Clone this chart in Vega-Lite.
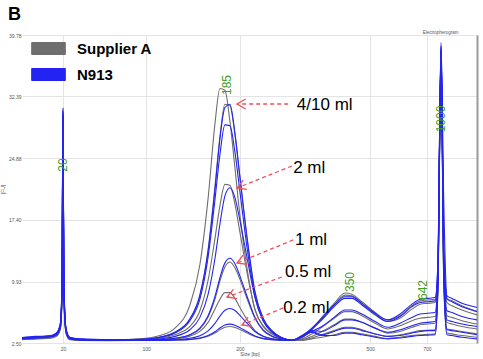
{
"$schema":"https://vega.github.io/schema/vega-lite/v6.json",
"width":455,"height":308,
"autosize":{"type":"none"},
"padding":{"left":22,"top":35,"right":6,"bottom":16},
"title":{"text":"B","anchor":"start","frame":"group","fontSize":18,"fontWeight":"bold","color":"#000","baseline":"alphabetic","offset":14,"dx":-14,"dy":22,"font":"Liberation Sans"},
"config":{"font":"Liberation Sans","view":{"stroke":null}},
"datasets":{
"A10":[{"t":0,"fu":3.1},{"t":2.9,"fu":3.2},{"t":5.7,"fu":3.3},{"t":7.5,"fu":3.6},{"t":8.4,"fu":4.6},{"t":8.8,"fu":9},{"t":9.0,"fu":30.2},{"t":9.2,"fu":9},{"t":9.7,"fu":4.0},{"t":10.5,"fu":3.1},{"t":12.7,"fu":2.95},{"t":19.3,"fu":2.85},{"t":25.9,"fu":3.0},{"t":30.3,"fu":3.4},{"t":33.6,"fu":4.3},{"t":36.9,"fu":7.1},{"t":39.1,"fu":12.0},{"t":40.9,"fu":20.0},{"t":42.4,"fu":29.0},{"t":43.5,"fu":33.3},{"t":44.6,"fu":33.1},{"t":45.7,"fu":29.3},{"t":46.8,"fu":23.7},{"t":47.9,"fu":17.9},{"t":49.5,"fu":11.4},{"t":51.2,"fu":6.5},{"t":53.0,"fu":4.6},{"t":54.9,"fu":3.6},{"t":57.1,"fu":3.0},{"t":59.3,"fu":2.85},{"t":61.5,"fu":3.2},{"t":63.7,"fu":4.2},{"t":65.9,"fu":5.6},{"t":68.6,"fu":7.3},{"t":71.0,"fu":8.55},{"t":72.5,"fu":8.4},{"t":74.7,"fu":7.5},{"t":77.6,"fu":6.2},{"t":80.4,"fu":5.3},{"t":83.1,"fu":5.8},{"t":85.7,"fu":7.0},{"t":87.5,"fu":7.6},{"t":89.2,"fu":7.7},{"t":90.8,"fu":7.8},{"t":91.4,"fu":11},{"t":92.1,"fu":37.8},{"t":92.7,"fu":13},{"t":93.4,"fu":7.9},{"t":94.5,"fu":7.6},{"t":96.7,"fu":7.0},{"t":100,"fu":6.3}],
"A4":[{"t":0,"fu":3.05},{"t":2.9,"fu":3.15},{"t":5.7,"fu":3.25},{"t":7.5,"fu":3.5},{"t":8.4,"fu":4.5},{"t":8.8,"fu":8.5},{"t":9.0,"fu":30.0},{"t":9.2,"fu":8.5},{"t":9.7,"fu":3.9},{"t":10.5,"fu":3.05},{"t":12.7,"fu":2.9},{"t":19.3,"fu":2.85},{"t":25.9,"fu":2.95},{"t":30.3,"fu":3.2},{"t":33.6,"fu":3.8},{"t":36.9,"fu":5.4},{"t":39.1,"fu":8.3},{"t":40.9,"fu":13.8},{"t":42.4,"fu":21.4},{"t":43.5,"fu":27.5},{"t":44.6,"fu":31.4},{"t":45.7,"fu":31.2},{"t":46.8,"fu":27.7},{"t":47.9,"fu":22.5},{"t":49.5,"fu":15.0},{"t":51.2,"fu":8.6},{"t":53.0,"fu":5.4},{"t":54.9,"fu":4.0},{"t":57.1,"fu":3.15},{"t":59.3,"fu":2.85},{"t":61.5,"fu":3.15},{"t":63.7,"fu":4.1},{"t":65.9,"fu":5.4},{"t":68.6,"fu":7.1},{"t":71.0,"fu":8.3},{"t":72.5,"fu":8.2},{"t":74.7,"fu":7.3},{"t":77.6,"fu":6.0},{"t":80.4,"fu":5.1},{"t":83.1,"fu":5.5},{"t":85.7,"fu":6.6},{"t":87.5,"fu":7.2},{"t":89.2,"fu":7.3},{"t":90.8,"fu":7.4},{"t":91.4,"fu":11},{"t":92.1,"fu":37.5},{"t":92.7,"fu":12.5},{"t":93.4,"fu":7.4},{"t":94.5,"fu":7.0},{"t":96.7,"fu":6.5},{"t":100,"fu":5.9}],
"A2":[{"t":0,"fu":3.0},{"t":2.9,"fu":3.1},{"t":5.7,"fu":3.2},{"t":7.5,"fu":3.45},{"t":8.4,"fu":4.4},{"t":8.8,"fu":8.5},{"t":9.0,"fu":29.8},{"t":9.2,"fu":8.5},{"t":9.7,"fu":3.9},{"t":10.5,"fu":3.0},{"t":12.7,"fu":2.9},{"t":19.3,"fu":2.8},{"t":25.9,"fu":2.9},{"t":30.3,"fu":3.1},{"t":33.6,"fu":3.5},{"t":36.9,"fu":4.5},{"t":39.1,"fu":6.4},{"t":40.9,"fu":10.1},{"t":42.4,"fu":15.1},{"t":43.5,"fu":19.1},{"t":44.6,"fu":21.7},{"t":45.7,"fu":21.6},{"t":46.8,"fu":19.3},{"t":47.9,"fu":15.9},{"t":49.5,"fu":10.9},{"t":51.2,"fu":6.6},{"t":53.0,"fu":4.5},{"t":54.9,"fu":3.6},{"t":57.1,"fu":3.0},{"t":59.3,"fu":2.8},{"t":61.5,"fu":3.0},{"t":63.7,"fu":3.6},{"t":65.9,"fu":4.4},{"t":68.6,"fu":5.5},{"t":71.0,"fu":6.3},{"t":72.5,"fu":6.3},{"t":74.7,"fu":5.8},{"t":77.6,"fu":4.9},{"t":80.4,"fu":4.2},{"t":83.1,"fu":4.6},{"t":85.7,"fu":5.2},{"t":87.5,"fu":5.5},{"t":89.2,"fu":5.6},{"t":90.8,"fu":5.7},{"t":91.4,"fu":10},{"t":92.1,"fu":37.2},{"t":92.7,"fu":12},{"t":93.4,"fu":5.8},{"t":94.5,"fu":5.6},{"t":96.7,"fu":5.2},{"t":100,"fu":4.8}],
"A1":[{"t":0,"fu":3.0},{"t":2.9,"fu":3.05},{"t":5.7,"fu":3.15},{"t":7.5,"fu":3.4},{"t":8.4,"fu":4.3},{"t":8.8,"fu":8},{"t":9.0,"fu":29.6},{"t":9.2,"fu":8},{"t":9.7,"fu":3.8},{"t":10.5,"fu":3.0},{"t":12.7,"fu":2.85},{"t":19.3,"fu":2.8},{"t":25.9,"fu":2.84},{"t":30.3,"fu":2.9},{"t":33.6,"fu":3.07},{"t":36.9,"fu":3.5},{"t":39.1,"fu":4.2},{"t":40.9,"fu":5.65},{"t":42.4,"fu":7.8},{"t":43.5,"fu":10.0},{"t":44.6,"fu":11.7},{"t":45.7,"fu":12.3},{"t":46.8,"fu":11.6},{"t":47.9,"fu":10.2},{"t":49.5,"fu":7.8},{"t":51.2,"fu":5.5},{"t":53.0,"fu":4.0},{"t":54.9,"fu":3.3},{"t":57.1,"fu":2.97},{"t":59.3,"fu":2.82},{"t":61.5,"fu":2.9},{"t":63.7,"fu":3.3},{"t":65.9,"fu":3.9},{"t":68.6,"fu":4.7},{"t":71.0,"fu":5.4},{"t":72.5,"fu":5.4},{"t":74.7,"fu":5.0},{"t":77.6,"fu":4.3},{"t":80.4,"fu":3.7},{"t":83.1,"fu":3.9},{"t":85.7,"fu":4.4},{"t":87.5,"fu":4.7},{"t":89.2,"fu":4.8},{"t":90.8,"fu":4.9},{"t":91.4,"fu":9.5},{"t":92.1,"fu":37},{"t":92.7,"fu":11},{"t":93.4,"fu":5.0},{"t":94.5,"fu":4.8},{"t":96.7,"fu":4.5},{"t":100,"fu":4.2}],
"A05":[{"t":0,"fu":2.95},{"t":2.9,"fu":3.0},{"t":5.7,"fu":3.1},{"t":7.5,"fu":3.35},{"t":8.4,"fu":4.2},{"t":8.8,"fu":8},{"t":9.0,"fu":29.4},{"t":9.2,"fu":8},{"t":9.7,"fu":3.7},{"t":10.5,"fu":2.95},{"t":12.7,"fu":2.85},{"t":19.3,"fu":2.8},{"t":25.9,"fu":2.83},{"t":30.3,"fu":2.89},{"t":33.6,"fu":3.0},{"t":36.9,"fu":3.33},{"t":39.1,"fu":3.9},{"t":40.9,"fu":5.0},{"t":42.4,"fu":6.6},{"t":43.5,"fu":7.8},{"t":44.6,"fu":8.6},{"t":45.7,"fu":8.6},{"t":46.8,"fu":7.9},{"t":47.9,"fu":6.8},{"t":49.5,"fu":5.3},{"t":51.2,"fu":4.0},{"t":53.0,"fu":3.33},{"t":54.9,"fu":3.04},{"t":57.1,"fu":2.87},{"t":59.3,"fu":2.8},{"t":61.5,"fu":2.85},{"t":63.7,"fu":3.1},{"t":65.9,"fu":3.5},{"t":68.6,"fu":4.0},{"t":71.0,"fu":4.4},{"t":72.5,"fu":4.4},{"t":74.7,"fu":4.1},{"t":77.6,"fu":3.6},{"t":80.4,"fu":3.3},{"t":83.1,"fu":3.5},{"t":85.7,"fu":3.8},{"t":87.5,"fu":4.0},{"t":89.2,"fu":4.05},{"t":90.8,"fu":4.1},{"t":91.4,"fu":9},{"t":92.1,"fu":36.8},{"t":92.7,"fu":10},{"t":93.4,"fu":4.2},{"t":94.5,"fu":4.1},{"t":96.7,"fu":3.9},{"t":100,"fu":3.6}],
"A02":[{"t":0,"fu":2.9},{"t":2.9,"fu":3.0},{"t":5.7,"fu":3.05},{"t":7.5,"fu":3.3},{"t":8.4,"fu":4.1},{"t":8.8,"fu":7.5},{"t":9.0,"fu":29.2},{"t":9.2,"fu":7.5},{"t":9.7,"fu":3.6},{"t":10.5,"fu":2.9},{"t":12.7,"fu":2.8},{"t":19.3,"fu":2.78},{"t":25.9,"fu":2.81},{"t":30.3,"fu":2.82},{"t":33.6,"fu":2.85},{"t":36.9,"fu":2.92},{"t":39.1,"fu":3.06},{"t":40.9,"fu":3.31},{"t":42.4,"fu":3.7},{"t":43.5,"fu":4.09},{"t":44.6,"fu":4.4},{"t":45.7,"fu":4.49},{"t":46.8,"fu":4.38},{"t":47.9,"fu":4.13},{"t":49.5,"fu":3.7},{"t":51.2,"fu":3.28},{"t":53.0,"fu":3.02},{"t":54.9,"fu":2.89},{"t":57.1,"fu":2.83},{"t":59.3,"fu":2.8},{"t":61.5,"fu":2.8},{"t":63.7,"fu":3.0},{"t":65.9,"fu":3.2},{"t":68.6,"fu":3.5},{"t":71.0,"fu":3.8},{"t":72.5,"fu":3.8},{"t":74.7,"fu":3.6},{"t":77.6,"fu":3.3},{"t":80.4,"fu":3.05},{"t":83.1,"fu":3.2},{"t":85.7,"fu":3.4},{"t":87.5,"fu":3.5},{"t":89.2,"fu":3.55},{"t":90.8,"fu":3.6},{"t":91.4,"fu":8.5},{"t":92.1,"fu":36.5},{"t":92.7,"fu":9.5},{"t":93.4,"fu":3.7},{"t":94.5,"fu":3.6},{"t":96.7,"fu":3.4},{"t":100,"fu":3.2}],
"B10":[{"t":0,"fu":3.15},{"t":2.9,"fu":3.3},{"t":5.7,"fu":3.35},{"t":7.5,"fu":3.7},{"t":8.4,"fu":4.8},{"t":8.8,"fu":10},{"t":9.0,"fu":30.9},{"t":9.2,"fu":10},{"t":9.7,"fu":4.2},{"t":10.5,"fu":3.2},{"t":12.7,"fu":3.0},{"t":19.3,"fu":2.9},{"t":25.9,"fu":2.95},{"t":30.3,"fu":3.2},{"t":33.6,"fu":3.8},{"t":36.9,"fu":5.4},{"t":39.1,"fu":8.3},{"t":40.9,"fu":13.6},{"t":42.4,"fu":21.0},{"t":43.5,"fu":27.2},{"t":44.6,"fu":31.0},{"t":45.7,"fu":31.4},{"t":46.8,"fu":27.9},{"t":47.9,"fu":22.6},{"t":49.5,"fu":15.1},{"t":51.2,"fu":8.7},{"t":53.0,"fu":5.5},{"t":54.9,"fu":4.0},{"t":57.1,"fu":3.15},{"t":59.3,"fu":2.85},{"t":61.5,"fu":3.3},{"t":63.7,"fu":4.3},{"t":65.9,"fu":5.5},{"t":68.6,"fu":7.1},{"t":71.0,"fu":8.1},{"t":72.5,"fu":8.1},{"t":74.7,"fu":7.3},{"t":77.6,"fu":6.1},{"t":80.4,"fu":5.3},{"t":83.1,"fu":6.0},{"t":85.7,"fu":7.2},{"t":87.5,"fu":7.8},{"t":89.2,"fu":7.9},{"t":90.8,"fu":8.0},{"t":91.4,"fu":12},{"t":92.1,"fu":38.9},{"t":92.7,"fu":14},{"t":93.4,"fu":8.2},{"t":94.5,"fu":7.9},{"t":96.7,"fu":7.3},{"t":100,"fu":6.8}],
"B4":[{"t":0,"fu":3.1},{"t":2.9,"fu":3.25},{"t":5.7,"fu":3.3},{"t":7.5,"fu":3.6},{"t":8.4,"fu":4.7},{"t":8.8,"fu":9.5},{"t":9.0,"fu":30.6},{"t":9.2,"fu":9.5},{"t":9.7,"fu":4.1},{"t":10.5,"fu":3.15},{"t":12.7,"fu":2.95},{"t":19.3,"fu":2.85},{"t":25.9,"fu":2.93},{"t":30.3,"fu":3.2},{"t":33.6,"fu":3.7},{"t":36.9,"fu":5.2},{"t":39.1,"fu":7.8},{"t":40.9,"fu":12.9},{"t":42.4,"fu":19.8},{"t":43.5,"fu":25.3},{"t":44.6,"fu":28.9},{"t":45.7,"fu":28.8},{"t":46.8,"fu":25.6},{"t":47.9,"fu":20.8},{"t":49.5,"fu":13.9},{"t":51.2,"fu":8.1},{"t":53.0,"fu":5.2},{"t":54.9,"fu":3.9},{"t":57.1,"fu":3.1},{"t":59.3,"fu":2.85},{"t":61.5,"fu":3.3},{"t":63.7,"fu":4.2},{"t":65.9,"fu":5.3},{"t":68.6,"fu":6.9},{"t":71.0,"fu":7.9},{"t":72.5,"fu":7.9},{"t":74.7,"fu":7.1},{"t":77.6,"fu":5.9},{"t":80.4,"fu":5.1},{"t":83.1,"fu":5.7},{"t":85.7,"fu":6.9},{"t":87.5,"fu":7.4},{"t":89.2,"fu":7.5},{"t":90.8,"fu":7.6},{"t":91.4,"fu":12},{"t":92.1,"fu":38.6},{"t":92.7,"fu":19.4},{"t":93.4,"fu":7.8},{"t":94.5,"fu":7.5},{"t":96.7,"fu":6.9},{"t":100,"fu":6.3}],
"B2":[{"t":0,"fu":3.1},{"t":2.9,"fu":3.2},{"t":5.7,"fu":3.3},{"t":7.5,"fu":3.6},{"t":8.4,"fu":4.6},{"t":8.8,"fu":9.5},{"t":9.0,"fu":30.4},{"t":9.2,"fu":9.5},{"t":9.7,"fu":4.0},{"t":10.5,"fu":3.1},{"t":12.7,"fu":2.95},{"t":19.3,"fu":2.85},{"t":25.9,"fu":2.87},{"t":30.3,"fu":3.0},{"t":33.6,"fu":3.3},{"t":36.9,"fu":4.1},{"t":39.1,"fu":5.6},{"t":40.9,"fu":8.4},{"t":42.4,"fu":12.7},{"t":43.5,"fu":16.9},{"t":44.6,"fu":20.3},{"t":45.7,"fu":21.3},{"t":46.8,"fu":20.1},{"t":47.9,"fu":17.3},{"t":49.5,"fu":12.7},{"t":51.2,"fu":8.0},{"t":53.0,"fu":5.2},{"t":54.9,"fu":3.8},{"t":57.1,"fu":3.1},{"t":59.3,"fu":2.84},{"t":61.5,"fu":3.3},{"t":63.7,"fu":3.9},{"t":65.9,"fu":4.5},{"t":68.6,"fu":5.6},{"t":71.0,"fu":6.5},{"t":72.5,"fu":6.5},{"t":74.7,"fu":6.0},{"t":77.6,"fu":5.1},{"t":80.4,"fu":4.4},{"t":83.1,"fu":4.9},{"t":85.7,"fu":5.6},{"t":87.5,"fu":6.0},{"t":89.2,"fu":6.1},{"t":90.8,"fu":6.2},{"t":91.4,"fu":11},{"t":92.1,"fu":38.4},{"t":92.7,"fu":13},{"t":93.4,"fu":6.4},{"t":94.5,"fu":6.2},{"t":96.7,"fu":5.7},{"t":100,"fu":5.3}],
"B1":[{"t":0,"fu":3.1},{"t":2.9,"fu":3.2},{"t":5.7,"fu":3.3},{"t":7.5,"fu":3.55},{"t":8.4,"fu":4.5},{"t":8.8,"fu":9},{"t":9.0,"fu":30.2},{"t":9.2,"fu":9},{"t":9.7,"fu":4.0},{"t":10.5,"fu":3.1},{"t":12.7,"fu":2.9},{"t":19.3,"fu":2.85},{"t":25.9,"fu":2.84},{"t":30.3,"fu":2.92},{"t":33.6,"fu":3.08},{"t":36.9,"fu":3.5},{"t":39.1,"fu":4.3},{"t":40.9,"fu":5.8},{"t":42.4,"fu":8.1},{"t":43.5,"fu":10.4},{"t":44.6,"fu":12.2},{"t":45.7,"fu":12.75},{"t":46.8,"fu":12.1},{"t":47.9,"fu":10.6},{"t":49.5,"fu":8.1},{"t":51.2,"fu":5.6},{"t":53.0,"fu":4.1},{"t":54.9,"fu":3.35},{"t":57.1,"fu":2.98},{"t":59.3,"fu":2.82},{"t":61.5,"fu":3.4},{"t":63.7,"fu":4.0},{"t":65.9,"fu":3.9},{"t":68.6,"fu":4.6},{"t":71.0,"fu":5.3},{"t":72.5,"fu":5.3},{"t":74.7,"fu":5.0},{"t":77.6,"fu":4.3},{"t":80.4,"fu":3.8},{"t":83.1,"fu":4.1},{"t":85.7,"fu":4.6},{"t":87.5,"fu":4.9},{"t":89.2,"fu":5.0},{"t":90.8,"fu":5.1},{"t":91.4,"fu":10},{"t":92.1,"fu":38.2},{"t":92.7,"fu":12},{"t":93.4,"fu":5.3},{"t":94.5,"fu":5.1},{"t":96.7,"fu":4.8},{"t":100,"fu":4.5}],
"B05":[{"t":0,"fu":3.05},{"t":2.9,"fu":3.15},{"t":5.7,"fu":3.25},{"t":7.5,"fu":3.5},{"t":8.4,"fu":4.4},{"t":8.8,"fu":9},{"t":9.0,"fu":30.0},{"t":9.2,"fu":9},{"t":9.7,"fu":3.9},{"t":10.5,"fu":3.05},{"t":12.7,"fu":2.9},{"t":19.3,"fu":2.8},{"t":25.9,"fu":2.82},{"t":30.3,"fu":2.85},{"t":33.6,"fu":2.91},{"t":36.9,"fu":3.07},{"t":39.1,"fu":3.39},{"t":40.9,"fu":3.97},{"t":42.4,"fu":4.87},{"t":43.5,"fu":5.76},{"t":44.6,"fu":6.47},{"t":45.7,"fu":6.68},{"t":46.8,"fu":6.43},{"t":47.9,"fu":5.84},{"t":49.5,"fu":4.87},{"t":51.2,"fu":3.89},{"t":53.0,"fu":3.31},{"t":54.9,"fu":3.01},{"t":57.1,"fu":2.87},{"t":59.3,"fu":2.81},{"t":61.5,"fu":3.3},{"t":63.7,"fu":3.9},{"t":65.9,"fu":3.5},{"t":68.6,"fu":3.9},{"t":71.0,"fu":4.3},{"t":72.5,"fu":4.3},{"t":74.7,"fu":4.0},{"t":77.6,"fu":3.6},{"t":80.4,"fu":3.3},{"t":83.1,"fu":3.4},{"t":85.7,"fu":3.7},{"t":87.5,"fu":3.9},{"t":89.2,"fu":4.0},{"t":90.8,"fu":4.0},{"t":91.4,"fu":9.5},{"t":92.1,"fu":38},{"t":92.7,"fu":11},{"t":93.4,"fu":4.1},{"t":94.5,"fu":4.0},{"t":96.7,"fu":3.8},{"t":100,"fu":3.5}],
"B02":[{"t":0,"fu":3.0},{"t":2.9,"fu":3.1},{"t":5.7,"fu":3.2},{"t":7.5,"fu":3.45},{"t":8.4,"fu":4.3},{"t":8.8,"fu":8.5},{"t":9.0,"fu":29.8},{"t":9.2,"fu":8.5},{"t":9.7,"fu":3.8},{"t":10.5,"fu":3.0},{"t":12.7,"fu":2.85},{"t":19.3,"fu":2.8},{"t":25.9,"fu":2.81},{"t":30.3,"fu":2.82},{"t":33.6,"fu":2.86},{"t":36.9,"fu":2.94},{"t":39.1,"fu":3.1},{"t":40.9,"fu":3.4},{"t":42.4,"fu":3.86},{"t":43.5,"fu":4.32},{"t":44.6,"fu":4.68},{"t":45.7,"fu":4.79},{"t":46.8,"fu":4.66},{"t":47.9,"fu":4.36},{"t":49.5,"fu":3.86},{"t":51.2,"fu":3.36},{"t":53.0,"fu":3.06},{"t":54.9,"fu":2.91},{"t":57.1,"fu":2.84},{"t":59.3,"fu":2.8},{"t":61.5,"fu":3.2},{"t":63.7,"fu":3.8},{"t":65.9,"fu":3.4},{"t":68.6,"fu":3.4},{"t":71.0,"fu":3.7},{"t":72.5,"fu":3.7},{"t":74.7,"fu":3.5},{"t":77.6,"fu":3.2},{"t":80.4,"fu":3.0},{"t":83.1,"fu":3.1},{"t":85.7,"fu":3.3},{"t":87.5,"fu":3.4},{"t":89.2,"fu":3.45},{"t":90.8,"fu":3.5},{"t":91.4,"fu":9},{"t":92.1,"fu":37.8},{"t":92.7,"fu":10},{"t":93.4,"fu":3.5},{"t":94.5,"fu":3.4},{"t":96.7,"fu":3.2},{"t":100,"fu":3.0}],
"arrows":[{"label":"4/10 ml","t":58.5,"fu":31.43,"t2":47.25,"fu2":31.43},{"label":"2 ml","t":59.3,"fu":23.92,"t2":47.25,"fu2":21.26},{"label":"1 ml","t":59.6,"fu":14.97,"t2":47.25,"fu2":12.18},{"label":"0.5 ml","t":57.1,"fu":10.49,"t2":45.05,"fu2":8.07},{"label":"0.2 ml","t":57.4,"fu":6.74,"t2":48.35,"fu2":4.68}],
"heads":[{"label":"4/10 ml","k":1,"t":49.16,"fu":32.03},{"label":"4/10 ml","k":2,"t":47.25,"fu":31.43},{"label":"4/10 ml","k":3,"t":49.16,"fu":30.82},{"label":"2 ml","k":1,"t":49.43,"fu":21.09},{"label":"2 ml","k":2,"t":47.25,"fu":21.26},{"label":"2 ml","k":3,"t":48.62,"fu":22.21},{"label":"1 ml","k":1,"t":49.43,"fu":12.03},{"label":"1 ml","k":2,"t":47.25,"fu":12.18},{"label":"1 ml","k":3,"t":48.59,"fu":13.14},{"label":"0.5 ml","k":1,"t":47.23,"fu":7.86},{"label":"0.5 ml","k":2,"t":45.05,"fu":8.07},{"label":"0.5 ml","k":3,"t":46.46,"fu":9.0},{"label":"0.2 ml","k":1,"t":50.53,"fu":4.52},{"label":"0.2 ml","k":2,"t":48.35,"fu":4.68},{"label":"0.2 ml","k":3,"t":49.69,"fu":5.63}],
"notes":[{"label":"4/10 ml","t":60.4,"fu":31.31},{"label":"2 ml","t":59.6,"fu":23.68},{"label":"1 ml","t":60.0,"fu":14.97},{"label":"0.5 ml","t":57.8,"fu":11.09},{"label":"0.2 ml","t":57.4,"fu":6.74}],
"peaks":[{"label":"20","t":9.1,"fu":24.05},{"label":"185","t":45.05,"fu":33.73},{"label":"350","t":72.1,"fu":9.88},{"label":"642","t":88.1,"fu":8.92},{"label":"1000","t":92.1,"fu":29.61}],
"caption":[{"label":"Electropherogram","t":92,"fu":40.0}]
},
"encoding":{
"x":{"field":"t","type":"quantitative","scale":{"domain":[0,100],"nice":false,"zero":false},
 "axis":{"values":[9.0,27.3,47.9,76.5,89.0],"labelExpr":"datum.value < 10 ? '20' : datum.value < 30 ? '100' : datum.value < 50 ? '200' : datum.value < 80 ? '500' : '700'","labelFontSize":5,"labelColor":"#555","labelPadding":3,"ticks":false,"domain":false,"grid":true,"gridColor":"#e4e4e4","title":"Size [bp]","titleFontSize":5,"titleFontWeight":"normal","titleColor":"#555","titlePadding":0}},
"y":{"field":"fu","type":"quantitative","scale":{"domain":[2.5,39.78],"nice":false,"zero":false},
 "axis":{"values":[2.5,9.93,17.4,24.88,32.39,39.78],"format":".2f","labelFontSize":5,"labelColor":"#555","labelPadding":1,"ticks":false,"domain":false,"grid":true,"gridColor":"#e4e4e4","title":"[FU]","titleFontSize":5,"titleFontWeight":"normal","titleColor":"#555","titlePadding":3}}
},
"layer":[
{"layer":[
 {"data":{"name":"A10"},"mark":{"type":"line","strokeWidth":1.1,"interpolate":"monotone"},"encoding":{"color":{"datum":"Supplier A","type":"nominal","scale":{"domain":["Supplier A","N913"],"range":["#6e6e6e","#2424f2"]},
   "legend":{"orient":"none","legendX":19,"legendY":6,"title":null,"symbolType":"M-2.8,-1H2.8V1H-2.8Z","symbolSize":144,"labelFontSize":15,"labelFontWeight":"bold","labelFont":"Liberation Sans","labelColor":"#000","labelOffset":21,"rowPadding":9,"padding":0,
    "encode":{"symbols":{"update":{"fill":{"scale":"color","field":"value"},"stroke":{"value":"#666"},"strokeWidth":{"value":1},"opacity":{"value":1}}}}}}}},
 {"data":{"name":"A4"},"mark":{"type":"line","strokeWidth":1.1,"interpolate":"monotone"},"encoding":{"color":{"datum":"Supplier A","type":"nominal"}}},
 {"data":{"name":"A2"},"mark":{"type":"line","strokeWidth":1.1,"interpolate":"monotone"},"encoding":{"color":{"datum":"Supplier A","type":"nominal"}}},
 {"data":{"name":"A1"},"mark":{"type":"line","strokeWidth":1.1,"interpolate":"monotone"},"encoding":{"color":{"datum":"Supplier A","type":"nominal"}}},
 {"data":{"name":"A05"},"mark":{"type":"line","strokeWidth":1.1,"interpolate":"monotone"},"encoding":{"color":{"datum":"Supplier A","type":"nominal"}}},
 {"data":{"name":"A02"},"mark":{"type":"line","strokeWidth":1.1,"interpolate":"monotone"},"encoding":{"color":{"datum":"Supplier A","type":"nominal"}}},
 {"data":{"name":"B10"},"mark":{"type":"line","strokeWidth":1.1,"interpolate":"monotone"},"encoding":{"color":{"datum":"N913","type":"nominal"}}},
 {"data":{"name":"B4"},"mark":{"type":"line","strokeWidth":1.1,"interpolate":"monotone"},"encoding":{"color":{"datum":"N913","type":"nominal"}}},
 {"data":{"name":"B2"},"mark":{"type":"line","strokeWidth":1.1,"interpolate":"monotone"},"encoding":{"color":{"datum":"N913","type":"nominal"}}},
 {"data":{"name":"B1"},"mark":{"type":"line","strokeWidth":1.1,"interpolate":"monotone"},"encoding":{"color":{"datum":"N913","type":"nominal"}}},
 {"data":{"name":"B05"},"mark":{"type":"line","strokeWidth":1.1,"interpolate":"monotone"},"encoding":{"color":{"datum":"N913","type":"nominal"}}},
 {"data":{"name":"B02"},"mark":{"type":"line","strokeWidth":1.1,"interpolate":"monotone"},"encoding":{"color":{"datum":"N913","type":"nominal"}}},
 {"data":{"name":"arrows"},"mark":{"type":"rule","color":"#f0505c","strokeWidth":1.3,"strokeDash":[4,3]},"encoding":{"x2":{"field":"t2"},"y2":{"field":"fu2"}}},
 {"data":{"name":"heads"},"mark":{"type":"line","color":"#f0505c","strokeWidth":1.3},"encoding":{"detail":{"field":"label"},"order":{"field":"k"}}},
 {"data":{"name":"notes"},"mark":{"type":"text","align":"left","baseline":"middle","fontSize":17,"color":"#000","font":"Liberation Sans"},"encoding":{"text":{"field":"label"}}},
 {"data":{"name":"caption"},"mark":{"type":"text","align":"center","baseline":"middle","fontSize":4.5,"color":"#555"},"encoding":{"text":{"field":"label"}}}
]},
{"data":{"name":"peaks"},"mark":{"type":"text","angle":270,"align":"center","baseline":"middle","fontSize":12,"color":"#3f9f1f"},
 "encoding":{"text":{"field":"label"},"y":{"field":"fu","type":"quantitative","axis":{"orient":"right","labels":false,"ticks":false,"grid":false,"title":null,"domain":true,"domainColor":"#9a9a9a","domainWidth":2}}}}
],
"resolve":{"axis":{"y":"independent"}}
}
